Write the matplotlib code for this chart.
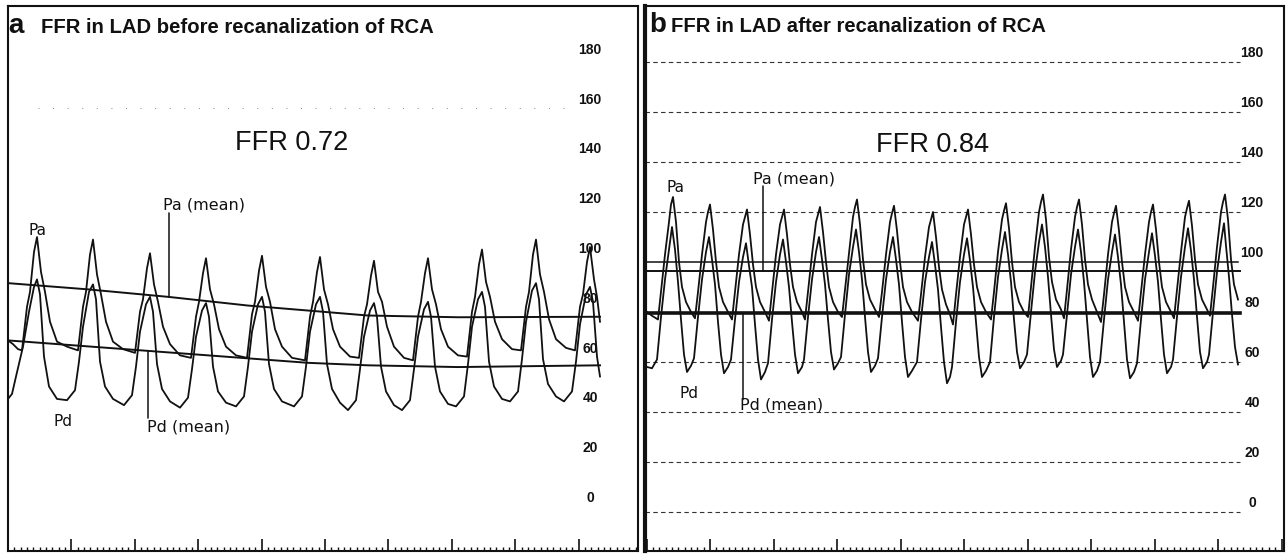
import numpy as np
import matplotlib.pyplot as plt
from matplotlib.transforms import blended_transform_factory

# time axis in samples (about 63.4 samples per second), pressure in mmHg

# panel a, before recanalization
a_pa = [(0, 66.5), (5, 65), (10, 63), (14, 62.5), (19, 80), (22, 86), (26, 102), (29, 108), (33, 94), (37, 86), (42, 74), (49, 66), (59, 64),
        (70, 62.5), (75, 80), (78, 86), (82, 101), (85, 107), (89, 93), (93, 85), (98, 74), (105, 66), (115, 63),
        (127, 61.5), (132, 78), (135, 83), (139, 95.5), (142, 101.5), (146, 89), (150, 82), (155, 72), (162, 65), (172, 60.5),
        (183, 59.5), (188, 76), (191, 82), (195, 93.5), (198, 99.5), (202, 87), (206, 81), (211, 71), (218, 64), (228, 60.5),
        (239, 59.5), (244, 77), (247, 82), (251, 94.5), (254, 100.5), (258, 88), (262, 82), (267, 71), (274, 64), (284, 59.5),
        (297, 58.5), (302, 76), (305, 82), (309, 94), (312, 100), (316, 87), (320, 81), (325, 71), (332, 64), (342, 60),
        (351, 59.5), (356, 76), (359, 81), (363, 92.5), (366, 98.5), (370, 86), (374, 82), (379, 72), (386, 64), (396, 59.5),
        (405, 58.5), (410, 76), (413, 82), (417, 93.5), (420, 99.5), (424, 87), (428, 81), (433, 71), (440, 64), (450, 60.5),
        (459, 60), (464, 78), (467, 84), (471, 97), (474, 103), (478, 90), (482, 84), (487, 74), (494, 67), (504, 63),
        (513, 62.5), (518, 80), (521, 86), (525, 101), (528, 107), (532, 93), (536, 86), (541, 75), (548, 67), (558, 63.5),
        (567, 62.5), (572, 80), (575, 85), (579, 98), (582, 104), (586, 91), (589, 84), (592, 74)]

a_pd = [(0, 43), (4, 45), (8, 52), (15, 64), (21, 78), (26, 88), (29, 91), (32, 85), (36, 60), (41, 48), (49, 43),
        (59, 42.5), (67, 46.5), (71, 58), (75, 72), (81, 86), (85, 89), (88, 83), (92, 58), (97, 48), (105, 43),
        (116, 40.5), (124, 44.5), (128, 56), (132, 70), (138, 81), (142, 84), (145, 78), (149, 57), (154, 47), (162, 42),
        (172, 39.5), (180, 43.5), (184, 55), (188, 68), (194, 78.5), (198, 81.5), (201, 76), (205, 56), (210, 46), (218, 41.5),
        (228, 40), (236, 44), (240, 56), (244, 70), (250, 81), (254, 84), (257, 78), (261, 57), (266, 47), (274, 42),
        (286, 40), (294, 44), (298, 56), (302, 70), (308, 81), (312, 84), (315, 78), (319, 57), (324, 47), (332, 41.5),
        (340, 38.5), (348, 42.5), (352, 55), (356, 68), (362, 78.5), (366, 81.5), (369, 76), (373, 56), (378, 46), (386, 40.5),
        (394, 38.5), (402, 42.5), (406, 55), (410, 68), (416, 79), (420, 82), (423, 76), (427, 56), (432, 46), (440, 41),
        (448, 40), (456, 44), (460, 57), (464, 72), (470, 83), (474, 86), (477, 80), (481, 58), (486, 48), (494, 43),
        (502, 42), (510, 46), (514, 59), (518, 74), (524, 86.5), (528, 89.5), (531, 83), (535, 59), (540, 49), (548, 44),
        (556, 42), (564, 46), (568, 58), (572, 73), (578, 85), (582, 88), (585, 82), (589, 60), (592, 52)]

a_pa_mean = [(0, 89.5), (80, 87), (160, 84), (240, 80.5), (300, 78.5), (360, 76.5), (450, 75.8), (592, 76)]
a_pd_mean = [(0, 66.5), (100, 63.5), (200, 60.5), (300, 57.5), (360, 56.5), (450, 55.8), (592, 56.5)]

# panel b, after recanalization
b_pa = [(2, 80), (7, 78.5), (13, 77), (16, 88), (20, 103), (24, 116), (26, 123), (28, 126),
        (31, 116), (34, 100), (37, 90), (41, 84), (46, 80), (50, 77.5), (53, 88), (57, 103), (61, 116), (63, 120), (65, 123),
        (68, 113), (71, 100), (74, 90), (78, 84), (83, 80), (87, 77), (90, 88), (94, 103), (98, 115), (100, 118), (102, 121),
        (105, 111), (108, 99), (111, 90), (115, 84), (120, 80), (124, 76.5), (127, 88), (131, 103), (135, 115), (137, 118), (139, 121),
        (142, 111), (145, 99), (148, 90), (152, 84), (157, 80), (160, 77), (163, 88), (167, 103), (171, 116), (173, 119), (175, 122),
        (178, 112), (181, 100), (184, 90), (188, 84), (193, 80), (197, 78), (200, 89), (204, 104), (208, 118), (210, 122), (212, 125),
        (215, 115), (218, 101), (221, 91), (225, 85), (230, 81), (234, 78), (237, 88), (241, 103), (245, 116), (247, 119.5), (249, 122.5),
        (252, 112.5), (255, 100), (258, 90), (262, 84), (267, 80), (273, 76.5), (276, 87), (280, 102), (284, 114), (286, 117), (288, 120),
        (291, 110), (294, 98), (297, 89), (301, 83), (305, 79), (308, 75), (311, 87), (315, 102), (319, 115), (321, 118), (323, 121),
        (326, 111), (329, 99), (332, 90), (336, 84), (341, 80), (346, 77), (349, 88), (353, 104), (357, 117), (359, 120.5), (361, 123.5),
        (364, 113.5), (367, 100), (370, 90), (374, 84), (379, 80), (383, 78), (386, 90), (390, 106), (394, 120), (396, 124), (398, 127),
        (401, 117), (404, 102), (407, 92), (411, 85), (416, 81), (419, 77.5), (422, 89), (426, 105), (430, 118), (432, 122), (434, 125),
        (437, 115), (440, 101), (443, 91), (447, 85), (452, 80), (456, 76), (459, 87), (463, 103), (467, 116), (469, 119.5), (471, 122.5),
        (474, 112.5), (477, 100), (480, 90), (484, 84), (489, 80), (493, 76.5), (496, 88), (500, 103), (504, 116), (506, 120), (508, 123),
        (511, 113), (514, 100), (517, 90), (521, 84), (526, 80), (529, 77.5), (532, 89), (536, 104), (540, 118), (542, 121.5), (544, 124.5),
        (547, 114.5), (550, 101), (553, 91), (557, 85), (562, 81), (565, 78.5), (568, 90), (572, 106), (576, 120), (578, 124), (580, 127),
        (583, 117), (586, 101), (589, 91), (593, 85)]

b_pd = [(2, 58), (7, 57.5), (12, 61), (16, 78), (20, 93), (24, 105), (27, 114),
        (30, 105), (33, 92), (36, 77), (39, 63), (42, 56), (46, 58.5), (49, 61.5), (53, 78), (57, 93), (61, 104), (64, 110),
        (67, 101), (70, 91), (73, 76), (76, 63), (79, 55.5), (83, 58), (86, 61), (90, 77), (94, 92), (98, 102), (101, 107.5),
        (104, 98.5), (107, 90), (110, 75), (113, 61), (116, 53), (120, 56), (123, 59.5), (127, 77), (131, 92), (135, 103), (138, 109),
        (141, 100), (144, 90), (147, 76), (150, 63), (153, 55.5), (157, 58), (159, 61), (163, 78), (167, 93), (171, 104), (174, 110),
        (177, 101), (180, 91), (183, 77), (186, 64), (189, 57), (193, 59.5), (196, 62), (200, 79), (204, 95), (208, 106), (211, 113),
        (214, 104), (217, 93), (220, 78), (223, 64), (226, 56), (230, 58.5), (233, 61.5), (237, 78), (241, 93), (245, 104), (248, 110),
        (251, 101), (254, 91), (257, 76), (260, 62), (263, 54), (267, 56.5), (272, 60), (276, 77), (280, 92), (284, 102), (287, 108),
        (290, 99), (293, 89), (296, 74), (299, 60), (302, 51.5), (305, 54), (307, 58), (311, 76), (315, 92), (319, 103), (322, 109.5),
        (325, 100.5), (328, 90), (331, 76), (334, 62), (337, 54), (341, 56.5), (345, 60), (349, 78), (353, 94), (357, 105), (360, 112),
        (363, 103), (366, 92), (369, 77), (372, 64), (375, 57.5), (379, 60), (382, 63), (386, 80), (390, 96), (394, 108), (397, 115),
        (400, 106), (403, 94), (406, 79), (409, 65), (412, 58), (416, 60.5), (418, 63), (422, 79), (426, 95), (430, 106), (433, 113),
        (436, 104), (439, 92), (442, 77), (445, 62), (448, 54), (452, 56.5), (455, 60), (459, 77), (463, 93), (467, 104), (470, 111),
        (473, 102), (476, 91), (479, 76), (482, 61), (485, 53.5), (489, 56), (492, 59.5), (496, 77), (500, 93), (504, 104), (507, 111.5),
        (510, 102.5), (513, 92), (516, 77), (519, 63), (522, 55.5), (526, 58), (528, 61), (532, 78), (536, 94), (540, 106), (543, 113.5),
        (546, 104.5), (549, 93), (552, 78), (555, 64), (558, 57.5), (562, 60), (564, 63), (568, 80), (572, 96), (576, 108), (579, 115.5),
        (581, 106.5), (584, 94), (587, 79), (590, 66), (593, 59)]

b_pa_mean = [(2, 96.4), (595, 96.4)]
b_pd_mean = [(0, 79.5), (595, 79.5)]
b_ref_100 = [(0, 100), (593, 100)]

y_labels = [0, 20, 40, 60, 80, 100, 120, 140, 160, 180]
b_grid = [0, 20, 40, 60, 120, 140, 160, 180]

W, H = 1288, 557
fig = plt.figure(figsize=(W / 100, H / 100), dpi=100)
ink = '#111111'


def frame(ax, xmax, ylo, yhi, tick0, step):
    ax.set_xlim(0, xmax)
    ax.set_ylim(ylo, yhi)
    ax.set_yticks([])
    ax.set_xticks(np.arange(tick0, xmax, step))
    ax.set_xticks(np.arange(tick0, xmax, step / 10), minor=True)
    ax.tick_params(axis='x', which='major', direction='in', length=8.5, width=1.2, color=ink, labelbottom=False)
    ax.tick_params(axis='x', which='minor', direction='in', length=3, width=1.0, color=ink)
    for s in ax.spines.values():
        s.set_linewidth(1.5)
        s.set_color(ink)


def trace(ax, pts, lw=1.3):
    arr = np.array(pts)
    ax.plot(arr[:, 0], arr[:, 1], color=ink, lw=lw, solid_joinstyle='round')
    return arr


# ---------- panel a ----------
axa = fig.add_axes([8 / W, 6 / H, 630 / W, 545 / H])
frame(axa, 630, -18.07, 200.8, 0, 63.4)

axa.plot([30, 560], [160, 160], color='#888888', lw=0.7, ls=(0, (1, 14)))
trace(axa, a_pa)
trace(axa, a_pd)
pam = trace(axa, a_pa_mean, 1.4)
pdm = trace(axa, a_pd_mean, 1.4)

tra = blended_transform_factory(axa.transAxes, axa.transData)
for v in y_labels:
    axa.text(0.924, v + 3.2, str(v), transform=tra, ha='center', va='center',
             fontsize=10, fontweight='bold', family='Liberation Sans', color=ink)

axa.text(0, 190, 'a', fontsize=20, fontweight='bold', family='Liberation Sans', va='baseline', color=ink)
axa.text(33, 190, 'FFR in LAD before recanalization of RCA', fontsize=14.6, fontweight='bold',
         family='Liberation Sans', va='baseline', color=ink)
axa.text(284, 145.8, 'FFR 0.72', fontsize=19.5, family='Liberation Sans', ha='center', va='center', color=ink)
axa.text(30, 110.8, 'Pa', fontsize=11, family='DejaVu Sans', ha='center', va='center', color=ink)
axa.text(55, 34.1, 'Pd', fontsize=11, family='DejaVu Sans', ha='center', va='center', color=ink)
axa.text(155, 120.9, 'Pa (mean)', fontsize=11.5, family='DejaVu Sans', va='center', color=ink)
axa.text(139, 31.7, 'Pd (mean)', fontsize=11.5, family='DejaVu Sans', va='center', color=ink)
axa.annotate('', xy=(161, np.interp(161, pam[:, 0], pam[:, 1])), xytext=(161, 117.7),
             arrowprops=dict(arrowstyle='-', color=ink, lw=1.1, shrinkA=0, shrinkB=0))
axa.annotate('', xy=(140, np.interp(140, pdm[:, 0], pdm[:, 1])), xytext=(140, 35.3),
             arrowprops=dict(arrowstyle='-', color=ink, lw=1.1, shrinkA=0, shrinkB=0))

# ---------- panel b ----------
axb = fig.add_axes([645 / W, 6 / H, 639 / W, 545 / H])
frame(axb, 639, -15.6, 202.4, 1.5, 63.5)
axb.spines['left'].set_linewidth(3)

for v in b_grid:
    axb.plot([0, 595], [v, v], color='#333333', lw=0.8, ls=(0, (4, 3)))
trace(axb, b_ref_100, 1.1)
trace(axb, b_pa)
trace(axb, b_pd)
bpam = trace(axb, b_pa_mean, 1.4)
bpdm = trace(axb, b_pd_mean, 2.6)

trb = blended_transform_factory(axb.transAxes, axb.transData)
for v in y_labels:
    axb.text(0.950, v + 3.6, str(v), transform=trb, ha='center', va='center',
             fontsize=10, fontweight='bold', family='Liberation Sans', color=ink)

axb.text(4, 192, 'b', fontsize=20, fontweight='bold', family='Liberation Sans', va='baseline', color=ink)
axb.text(26, 192, 'FFR in LAD after recanalization of RCA', fontsize=14.6, fontweight='bold',
         family='Liberation Sans', va='baseline', color=ink)
axb.text(287, 146.8, 'FFR 0.84', fontsize=19.5, family='Liberation Sans', ha='center', va='center', color=ink)
axb.text(31, 129.6, 'Pa', fontsize=11, family='DejaVu Sans', ha='center', va='center', color=ink)
axb.text(44, 47.6, 'Pd', fontsize=11, family='DejaVu Sans', ha='center', va='center', color=ink)
axb.text(108, 133.2, 'Pa (mean)', fontsize=11.5, family='DejaVu Sans', va='center', color=ink)
axb.text(95, 42.6, 'Pd (mean)', fontsize=11.5, family='DejaVu Sans', va='center', color=ink)
axb.annotate('', xy=(118, bpam[0, 1]), xytext=(118, 130.4),
             arrowprops=dict(arrowstyle='-', color=ink, lw=1.1, shrinkA=0, shrinkB=0))
axb.annotate('', xy=(98, bpdm[0, 1]), xytext=(98, 45),
             arrowprops=dict(arrowstyle='-', color=ink, lw=1.1, shrinkA=0, shrinkB=0))

fig.savefig('out.png', dpi=100)
